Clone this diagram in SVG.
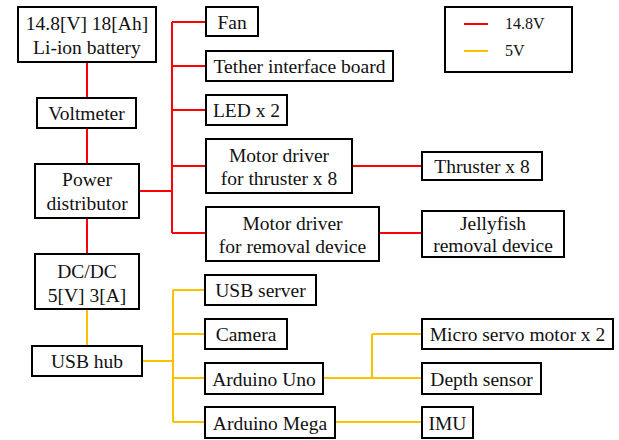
<svg xmlns="http://www.w3.org/2000/svg" width="619" height="440" viewBox="0 0 619 440">
<style>
.b{fill:#fff;stroke:#000;stroke-width:2}
.t{font-family:"Liberation Serif","Times New Roman",serif;font-size:19.5px;fill:#111;text-anchor:middle}
.lg{font-family:"Liberation Serif","Times New Roman",serif;font-size:16px;fill:#111}
.r{stroke:#ff0000;stroke-width:2;fill:none}
.y{stroke:#ffc000;stroke-width:2;fill:none}
</style>
<rect width="619" height="440" fill="#fff"/>
<g id="connectors">
<path class="r" d="M87 62V98M87 128V164M87 218V254"/>
<path class="r" d="M139 191H172" stroke-width="3"/>
<path class="r" d="M172 22V233M172 22H206M172 66H206M172 110H206M172 166H206M172 233H206"/>
<path class="r" d="M352 166H422M379 233H422"/>
<path class="y" d="M87 309V346"/>
<path class="y" d="M142 361H173" stroke-width="3"/>
<path class="y" d="M173 290V422M173 290H205M173 334H205M173 378H205M173 422H205"/>
<path class="y" d="M323 378H372" stroke-width="3"/>
<path class="y" d="M372 378H422M372 334V378M372 334H422M335 422H422"/>
</g>
<g id="battery"><rect class="b" x="18" y="7" width="138" height="55"/><text class="t" x="87" y="29.5">14.8[V] 18[Ah]</text><text class="t" x="87" y="53.5">Li-ion battery</text></g>
<g id="voltmeter"><rect class="b" x="37" y="98" width="99" height="30"/><text class="t" x="86.5" y="120">Voltmeter</text></g>
<g id="power"><rect class="b" x="35" y="164" width="104" height="54"/><text class="t" x="87" y="185.5">Power</text><text class="t" x="87" y="209.5">distributor</text></g>
<g id="dcdc"><rect class="b" x="35" y="254" width="104" height="55"/><text class="t" x="87" y="277.5">DC/DC</text><text class="t" x="87" y="301.5">5[V] 3[A]</text></g>
<g id="usbhub"><rect class="b" x="32" y="346" width="110" height="30"/><text class="t" x="87" y="368">USB hub</text></g>
<g id="fan"><rect class="b" x="206" y="7" width="52" height="29"/><text class="t" x="232" y="29">Fan</text></g>
<g id="tether"><rect class="b" x="206" y="51" width="187" height="30"/><text class="t" x="299.5" y="73">Tether interface board</text></g>
<g id="led"><rect class="b" x="206" y="95" width="81" height="30"/><text class="t" x="246.5" y="117">LED x 2</text></g>
<g id="mdthruster"><rect class="b" x="206" y="139" width="146" height="54"/><text class="t" x="279" y="161.5">Motor driver</text><text class="t" x="279" y="185">for thruster x 8</text></g>
<g id="mdremoval"><rect class="b" x="206" y="207" width="173" height="54"/><text class="t" x="292.5" y="229.5">Motor driver</text><text class="t" x="292.5" y="253">for removal device</text></g>
<g id="thruster"><rect class="b" x="422" y="152" width="120" height="28"/><text class="t" x="482" y="173">Thruster x 8</text></g>
<g id="jellyfish"><rect class="b" x="422" y="211" width="142" height="46"/><text class="t" x="493" y="230">Jellyfish</text><text class="t" x="493" y="252">removal device</text></g>
<g id="usbserver"><rect class="b" x="205" y="275" width="111" height="30"/><text class="t" x="260.5" y="297">USB server</text></g>
<g id="camera"><rect class="b" x="205" y="319" width="82" height="30"/><text class="t" x="246" y="341">Camera</text></g>
<g id="uno"><rect class="b" x="205" y="363" width="118" height="31"/><text class="t" x="264" y="385.5">Arduino Uno</text></g>
<g id="mega"><rect class="b" x="205" y="407" width="130" height="31"/><text class="t" x="270" y="429.5">Arduino Mega</text></g>
<g id="servo"><rect class="b" x="422" y="319" width="191" height="30"/><text class="t" x="517.5" y="341">Micro servo motor x 2</text></g>
<g id="depth"><rect class="b" x="422" y="363" width="119" height="31"/><text class="t" x="481.5" y="385.5">Depth sensor</text></g>
<g id="imu"><rect class="b" x="422" y="407" width="51" height="31"/><text class="t" x="447.5" y="429.5">IMU</text></g>
<g id="legend"><rect class="b" x="445" y="7" width="127" height="65"/><path class="r" d="M464 24H488"/><path class="y" d="M464 51H488"/><text class="lg" x="505" y="29">14.8V</text><text class="lg" x="505" y="56">5V</text></g>
</svg>
